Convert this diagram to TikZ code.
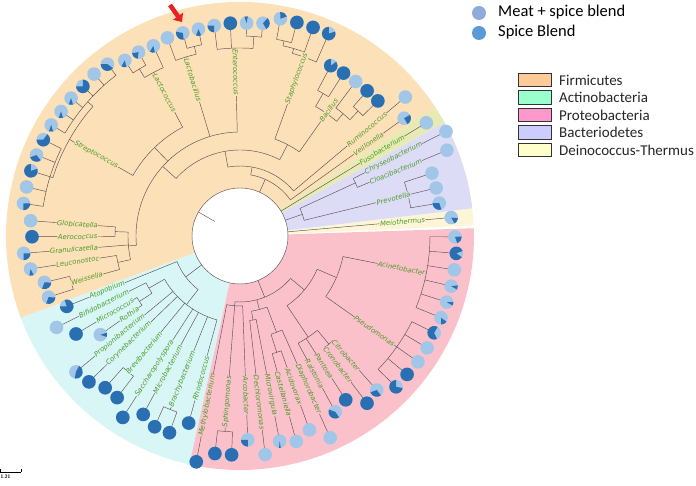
\documentclass[tikz,border=0pt]{standalone}
\usepackage{fontspec}
\newfontfamily\labfont{DejaVu Sans}
\newfontfamily\legfont{Carlito}
\usetikzlibrary{arrows.meta}
\definecolor{firmbg}{HTML}{FCE0B7}
\definecolor{actbg}{HTML}{D7F6F5}
\definecolor{probg}{HTML}{FBC1CB}
\definecolor{bacbg}{HTML}{DDDCF6}
\definecolor{deibg}{HTML}{FDF6D6}
\definecolor{fusobg}{HTML}{E7EBB3}
\definecolor{firmsw}{HTML}{FFCC99}
\definecolor{actsw}{HTML}{99FFCC}
\definecolor{prosw}{HTML}{FF99CC}
\definecolor{bacsw}{HTML}{CCCCFF}
\definecolor{deisw}{HTML}{FFFFCC}
\definecolor{treeline}{HTML}{5E4E55}
\definecolor{taxgreen}{HTML}{4C9A2A}
\definecolor{pielight}{HTML}{A2C6E8}
\definecolor{piedark}{HTML}{2B6FB3}
\definecolor{meatblue}{HTML}{8FAADC}
\definecolor{spiceblue}{HTML}{5B9BD5}
\definecolor{arrowred}{HTML}{E8231D}
\tikzset{
  branch/.style={draw=treeline, line width=0.45pt},
  taxlabel/.style={font=\labfont\itshape\fontsize{6.9}{7}\selectfont, text=taxgreen, inner sep=0.4pt},
  swatch/.style={draw=black!80, line width=0.8pt, minimum width=33pt, minimum height=13.5pt, inner sep=0pt},
  legtext/.style={font=\legfont\fontsize{15}{17}\selectfont, text=black!85, anchor=west, inner sep=0pt},
}
% annular sector r=48..234
\newcommand{\sectorfill}[3]{\fill[#3] (#1:48) -- (#1:234) arc[start angle=#1, end angle=#2, radius=234pt] -- (#2:48) arc[start angle=#2, end angle=#1, radius=48pt] -- cycle;}
\newcommand{\brarc}[3]{\draw[branch] (#1:#3) arc[start angle=#1, end angle=#2, radius=#3pt];}
\newcommand{\brstem}[3]{\draw[branch] (#1:#2) -- (#1:#3);}
\newcommand{\taxR}[4]{\node[taxlabel, fill=#3, rotate=#1, anchor=west] (tx#4) at (#1:#2) {#4};}
\newcommand{\taxL}[4]{\node[taxlabel, fill=#3, rotate=#1+180, anchor=east] (tx#4) at (#1:#2) {#4};}

\begin{document}
\begin{tikzpicture}[x=1pt, y=1pt]
  \useasboundingbox (-240,-250) rectangle (456,236);

  % clade backgrounds
  \sectorfill{33.5}{200.5}{firmbg}
  \sectorfill{200.5}{257.5}{actbg}
  \sectorfill{257.5}{361.9}{probg}
  \sectorfill{2.6}{6.8}{deibg}
  \sectorfill{6.8}{29.1}{bacbg}
  \sectorfill{29.1}{33.5}{fusobg}

  % root
  \draw[branch] (0,0) circle[radius=48pt];
  \brstem{150}{29}{48}

  % Bacteroidetes
  \brarc{9.38}{18.14}{173} \brstem{13.76}{66}{173}
  \brarc{22.52}{26.9}{127} \brstem{24.71}{66}{127}
  \brarc{13.76}{24.71}{66} \brstem{19.2}{48}{66}

  % Firmicutes
  \brarc{44.42}{48.8}{172} \brstem{46.61}{160}{172}
  \brarc{46.61}{53.18}{160} \brstem{49.9}{150}{160}
  \brarc{57.56}{61.94}{165} \brstem{59.75}{150}{165}
  \brarc{49.9}{59.75}{150} \brstem{54.8}{103}{150}
  \brarc{75.08}{79.46}{200} \brstem{77.27}{195}{200}
  \brarc{70.7}{77.27}{195} \brstem{74}{190}{195}
  \brarc{66.32}{74}{190} \brstem{70.2}{103}{190}
  \brarc{54.8}{70.2}{103} \brstem{62.5}{86}{103}
  \brarc{83.84}{88.22}{200} \brstem{86.03}{188}{200}
  \brarc{86.03}{96.98}{188} \brstem{91.5}{104}{188}
  \brarc{101.36}{105.74}{195} \brstem{103.55}{187}{195}
  \brarc{103.55}{110.12}{187} \brstem{106.8}{104}{187}
  \brarc{118.88}{123.26}{195} \brstem{121.07}{185}{195}
  \brarc{114.5}{121.07}{185} \brstem{117.8}{123}{185}
  \brarc{127.64}{149.54}{203} \brstem{138.6}{196}{203}
  \brarc{153.92}{171.44}{199} \brstem{162.7}{196}{199}
  \brarc{138.6}{162.7}{196} \brstem{150.5}{123}{196}
  \brarc{117.8}{150.5}{123} \brstem{134}{104}{123}
  \brarc{175.82}{180.2}{125} \brstem{178}{112}{125}
  \brarc{193.34}{197.72}{175} \brstem{195.53}{125}{175}
  \brarc{188.96}{195.53}{125} \brstem{192.2}{112}{125}
  \brarc{178}{192.2}{112} \brstem{185.1}{104}{112}
  \brarc{91.5}{185.1}{104} \brstem{138}{86}{104}
  \brarc{62.5}{138}{86} \brstem{100}{70}{86}
  \brarc{40.04}{100}{70} \brstem{80}{62}{70}
  \brarc{35.66}{80}{62} \brstem{66}{48}{62}

  % Actinobacteria
  \brarc{210.86}{215.24}{120} \brstem{213.05}{105}{120}
  \brarc{206.48}{213.05}{105} \brstem{209.8}{87}{105}
  \brarc{228.38}{232.76}{176} \brstem{230.57}{87}{176}
  \brarc{245.9}{250.28}{187} \brstem{248.09}{87}{187}
  \brarc{209.8}{254.66}{87} \brstem{232}{68}{87}
  \brarc{202.1}{232}{68} \brstem{217}{48}{68}

  % Proteobacteria
  \brarc{263.42}{267.8}{196} \brstem{265.61}{70}{196}
  \brarc{259.04}{272.18}{70} \brstem{265.61}{66}{70}
  \brarc{276.56}{280.94}{85} \brstem{278.75}{76}{85}
  \brarc{285.32}{289.7}{122} \brstem{287.51}{103}{122}
  \brarc{287.51}{294.08}{103} \brstem{290.8}{76}{103}
  \brarc{278.75}{290.8}{76} \brstem{284.8}{66}{76}
  \brarc{307.22}{311.6}{140} \brstem{309.41}{122}{140}
  \brarc{298.46}{309.41}{122} \brstem{304}{84}{122}
  \brarc{315.98}{333.5}{192} \brstem{324.74}{105}{192}
  \brarc{337.88}{359.78}{190} \brstem{348.7}{105}{190}
  \brarc{324.74}{348.7}{105} \brstem{336.7}{84}{105}
  \brarc{304}{336.7}{84} \brstem{320}{66}{84}
  \brarc{265.61}{320}{66} \brstem{292}{48}{66}

  % tip branches (index / from / to)
  \foreach \j/\ri/\ro in {
    0/48/212, 1/173/202, 2/173/202, 3/173/202, 4/127/224, 5/127/231, 6/48/218, 7/62/202,
    8/70/216, 9/172/193, 10/172/193, 11/160/193, 12/165/193, 13/165/193, 14/190/221, 15/195/221,
    16/200/221, 17/200/221, 18/200/214, 19/200/213, 20/188/213, 21/188/212, 22/195/211, 23/195/211,
    24/187/211, 25/185/209, 26/195/210, 27/195/210, 28/203/217, 29/203/218, 30/203/217, 31/203/218,
    32/203/218, 33/203/219, 34/199/219, 35/199/219, 36/199/219, 37/199/219, 38/199/219, 39/125/210,
    40/125/208, 41/112/217, 42/125/212, 43/175/201, 44/175/201, 45/68/187, 46/105/205, 47/120/191,
    48/120/171, 49/87/213, 50/87/210, 51/176/203, 52/176/203, 53/87/216, 54/87/203, 55/187/209,
    56/187/209, 57/87/194, 58/70/230, 59/196/219, 60/196/219, 61/70/204, 62/85/220, 63/85/209,
    64/122/213, 65/122/206, 66/103/221, 67/122/200, 68/122/195, 69/140/210, 70/140/206, 71/192/217,
    72/192/217, 73/192/218, 74/192/218, 75/192/217, 76/190/217, 77/190/217, 78/190/217, 79/190/217,
    80/190/217, 81/190/215} {
    \pgfmathsetmacro{\a}{5+4.38*\j}
    \draw[branch] (\a:\ri) -- (\a:\ro);
    \coordinate (leaf\j) at (\a:\ro);
  }

  % genus labels
  \taxR{5}{140}{deibg}{Meiothermus}
  \taxR{13.76}{140}{bacbg}{Prevotella}
  \taxR{22.52}{140}{bacbg}{Cloacibacterium}
  \taxR{26.9}{140}{bacbg}{Chryseobacterium}
  \taxR{31.28}{140}{fusobg}{Fusobacterium}
  \taxR{35.66}{140}{firmbg}{Veillonella}
  \taxR{40.04}{140}{firmbg}{Ruminococcus}
  \taxR{54.8}{140}{firmbg}{Bacillus}
  \taxR{70.2}{140}{firmbg}{Staphylococcus}
  \taxL{91.5}{140}{firmbg}{Enterococcus}
  \taxL{106.8}{140}{firmbg}{Lactobacillus}
  \taxL{117.8}{140}{firmbg}{Lactococcus}
  \taxL{150.5}{140}{firmbg}{Streptococcus}
  \taxL{175.82}{142}{firmbg}{Globicatella}
  \taxL{180.2}{142}{firmbg}{Aerococcus}
  \taxL{184.58}{142}{firmbg}{Granulicatella}
  \taxL{188.96}{142}{firmbg}{Leuconostoc}
  \taxL{195.53}{142}{firmbg}{Weissella}
  \taxL{202.1}{124}{actbg}{Atopobium}
  \taxL{206.48}{124}{actbg}{Bifidobacterium}
  \taxL{210.86}{124}{actbg}{Micrococcus}
  \taxL{215.24}{124}{actbg}{Rothia}
  \taxL{219.62}{124}{actbg}{Propionibacterium}
  \taxL{224}{124}{actbg}{Corynebacterium}
  \taxL{230.57}{124}{actbg}{Brevibacterium}
  \taxL{237.14}{124}{actbg}{Saccharopolyspora}
  \taxL{241.52}{124}{actbg}{Microbacterium}
  \taxL{248.09}{124}{actbg}{Brachybacterium}
  \taxL{254.66}{124}{actbg}{Rhodococcus}
  \taxL{259.04}{140}{probg}{Methylobacterium}
  \taxL{265.61}{140}{probg}{Sphingomonas}
  \taxR{272.18}{140}{probg}{Arcobacter}
  \taxR{276.56}{140}{probg}{Dechloromonas}
  \taxR{280.94}{140}{probg}{Microvirgula}
  \taxR{285.32}{140}{probg}{Castellaniella}
  \taxR{289.7}{140}{probg}{Acidovorax}
  \taxR{294.08}{140}{probg}{Diaphorobacter}
  \taxR{298.46}{140}{probg}{Ralstonia}
  \taxR{302.84}{140}{probg}{Pantoea}
  \taxR{307.22}{140}{probg}{Cronobacter}
  \taxR{311.6}{140}{probg}{Citrobacter}
  \taxR{324.74}{140}{probg}{Pseudomonas}
  \taxR{348.7}{140}{probg}{Acinetobacter}

  % pies at the tips (index / dark share / start angle)
  \foreach \j/\f/\s in {
    0/0.15/-60, 1/0.3/180, 2/0/0, 3/0/0, 4/0/0, 5/0/0, 6/0/0, 7/0.25/-60,
    8/0/0, 9/1/0, 10/1/0, 11/0/0, 12/1/0, 13/0.85/90, 14/0.8/90, 15/1/0,
    16/1/0, 17/0.2/20, 18/0.3/-60, 19/0.08/80, 20/1/0, 21/0.25/180, 22/0.12/250, 23/0.3/170,
    24/0/0, 25/0.12/240, 26/0.2/190, 27/0.12/240, 28/0.4/180, 29/0/0, 30/0.75/180, 31/0.1/250,
    32/0.1/250, 33/0.1/250, 34/0.65/180, 35/0.3/200, 36/0.8/90, 37/0/0, 38/0.25/270, 39/0/0,
    40/1/0, 41/0.25/270, 42/0.1/260, 43/0.3/250, 44/0.3/250, 45/0.8/180, 46/0/0, 47/1/0,
    48/0.1/-20, 49/0.45/260, 50/1/0, 51/1/0, 52/1/0, 53/1/0, 54/1/0, 55/1/0,
    56/1/0, 57/1/0, 58/1/0, 59/1/0, 60/1/0, 61/0.25/180, 62/0/0, 63/0.04/265,
    64/0/0, 65/0/0, 66/0/0, 67/0.4/160, 68/1/0, 69/1/0, 70/0.3/200, 71/0.72/90,
    72/1/0, 73/0/0, 74/0/0, 75/0.65/60, 76/0.15/270, 77/0.08/330, 78/0.1/330, 79/0/0,
    80/0.85/20, 81/0.2/290} {
    \fill[pielight] (leaf\j) circle[radius=6.8pt];
    \ifdim\f pt>0pt
      \fill[piedark] (leaf\j) -- ++(\s:6.8pt) arc[start angle=\s, delta angle=360*\f, radius=6.8pt] -- cycle;
    \fi
  }

  % marker arrow
  \coordinate (arrowtail) at (-70,231);
  \coordinate (arrowtip) at (-58,214);
  \draw[arrowred, line width=4.5pt, -{Triangle[length=7pt, width=12pt]}] (arrowtail) -- (arrowtip);

  % sample legend
  \node[circle, fill=meatblue, minimum size=14pt, inner sep=0pt] (meatdot) at (239,223) {};
  \node[font=\legfont\fontsize{16.5}{18}\selectfont, anchor=west, inner sep=0pt] (meattext) at (258,224) {Meat + spice blend};
  \node[circle, fill=spiceblue, minimum size=14pt, inner sep=0pt] (spicedot) at (239,203) {};
  \node[font=\legfont\fontsize{16.5}{18}\selectfont, anchor=west, inner sep=0pt] (spicetext) at (258,204) {Spice Blend};

  % phylum legend
  \foreach \y/\c/\name in {156/firmsw/Firmicutes, 138.5/actsw/Actinobacteria,
      121/prosw/Proteobacteria, 103.5/bacsw/Bacteriodetes, 86/deisw/Deinococcus-Thermus} {
    \node[swatch, fill=\c] (sw\c) at (294.5,\y) {};
    \node[legtext] (lg\c) at (319,\y) {\name};
  }

  % scale bar
  \coordinate (barleft) at (-240,-236);
  \coordinate (barright) at (-219,-236);
  \draw[line width=0.6pt] (barleft) -- (barright);
  \draw[line width=0.6pt] (barleft) -- ++(0,3);
  \draw[line width=0.6pt] (barright) -- ++(0,3);
  \node[font=\sffamily\bfseries\fontsize{5}{6}\selectfont, anchor=north west, inner sep=0.5pt] (barlabel) at (-240,-238) {1.21};
\end{tikzpicture}
\end{document}
